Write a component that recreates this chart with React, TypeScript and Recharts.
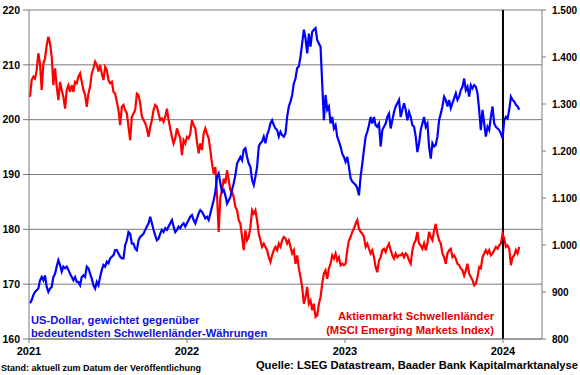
import React from "react";
import { LineChart, Line, XAxis, YAxis, CartesianGrid, ReferenceLine } from "recharts";

// Time axis: fractional years, one reading roughly every 3.9 days from early Jan 2021
const T0 = 2021.0063;
const STEP_YEARS = 0.010569;

const xTicks = [2021, 2022, 2023, 2024];
const leftTicks = [160, 170, 180, 190, 200, 210, 220];
const rightTicks = [800, 900, 1000, 1100, 1200, 1300, 1400, 1500];

// US-Dollar, weighted vs. main EM currencies (left axis)
const usd = [
  166.5,167.1,168.0,168.6,168.9,169.2,170.7,171.3,170.7,171.6,169.5,168.6,169.2,169.5,171.3,171.9,173.2,174.4,173.5,172.3,173.2,172.9,173.2,172.6,171.9,171.3,170.7,171.3,170.4,170.4,169.8,171.3,171.6,171.3,173.2,172.9,171.9,171.0,169.8,169.2,170.4,169.8,171.3,172.6,173.5,173.2,174.1,173.8,174.7,175.0,175.3,176.2,176.2,175.6,175.0,174.7,174.7,177.1,178.0,179.5,179.2,177.4,177.4,176.5,176.2,178.0,178.6,178.9,179.2,179.9,180.5,181.1,
  182.3,181.1,179.9,178.9,178.0,178.3,179.2,179.9,179.5,180.2,179.9,180.5,181.1,181.7,180.5,179.5,179.9,180.5,180.2,180.8,181.1,180.5,181.1,181.7,182.3,182.6,181.7,181.1,182.0,182.9,183.5,183.2,182.6,182.0,182.3,181.7,182.9,184.1,185.3,186.8,189.6,190.2,188.4,186.8,187.2,186.2,184.7,185.3,185.9,187.2,188.4,189.9,192.0,192.6,193.2,192.6,194.5,194.8,193.2,192.0,191.4,189.0,188.1,189.6,191.4,195.1,195.7,196.0,196.9,195.7,197.2,198.1,199.3,199.9,199.0,
  198.4,198.1,196.9,197.8,197.2,196.9,197.5,200.5,202.4,203.3,204.5,206.6,207.5,209.4,209.7,211.5,213.9,216.4,214.8,212.1,215.7,213.3,216.0,216.4,216.7,214.5,213.9,213.3,206.6,199.9,204.5,201.8,202.4,199.3,200.5,198.4,199.0,196.9,196.0,195.1,193.8,193.2,192.3,193.2,191.4,189.3,188.7,188.4,188.1,187.5,186.2,189.6,192.0,194.5,196.9,197.8,199.0,200.5,199.3,200.5,199.0,198.7,199.3,195.1,198.1,198.7,199.3,200.5,201.1,198.4,199.9,201.4,202.4,203.0,203.6,
  200.5,201.8,203.0,201.8,199.9,201.4,200.5,199.0,198.7,196.9,194.1,195.7,198.1,199.3,200.5,198.7,199.3,195.1,192.9,195.7,195.1,195.4,196.9,199.9,201.1,202.4,204.2,203.6,202.4,203.6,202.1,203.0,203.9,204.8,203.6,204.2,205.4,206.0,207.5,205.4,206.0,204.2,206.3,205.7,206.3,206.0,204.8,201.8,198.1,201.8,199.3,196.9,198.7,198.1,200.5,202.4,199.3,198.7,198.4,198.1,197.5,196.6,199.9,200.5,200.2,201.8,204.2,203.6,203.3,202.7,202.4,201.8,
];

// MSCI Emerging Markets Index (right axis)
const msci = [
  1315,1351,1358,1354,1372,1408,1386,1330,1386,1397,1425,1443,1429,1401,1340,1376,1337,1308,1347,1330,1315,1290,1330,1340,1326,1340,1326,1347,1344,1358,1365,1347,1330,1319,1294,1322,1337,1365,1376,1390,1383,1369,1383,1365,1351,1379,1372,1351,1344,1347,1326,1322,1305,1287,1255,1294,1298,1287,1280,1251,1223,1273,1280,1287,1322,1319,1301,1273,1266,1259,1248,1230,
  1251,1266,1287,1298,1294,1280,1266,1269,1262,1273,1290,1266,1248,1230,1216,1227,1248,1237,1227,1191,1223,1216,1230,1227,1237,1266,1255,1248,1219,1195,1216,1202,1237,1248,1237,1227,1202,1173,1152,1166,1106,1028,1102,1116,1141,1131,1159,1138,1116,1113,1102,1081,1074,1053,1045,1017,989,1031,1010,1017,1038,1074,1067,1074,1053,1024,1010,996,1003,996,989,974,964,978,989,
  996,989,1003,996,1010,1017,1014,1003,1010,996,982,989,960,978,950,932,911,875,889,911,875,882,861,875,847,850,875,889,918,939,946,928,950,960,978,971,982,967,974,957,960,957,960,989,1010,1017,1028,1035,1045,1053,1035,1028,1024,1017,996,1003,992,982,989,974,953,942,967,974,989,992,985,996,1003,989,978,971,982,974,978,
  978,982,974,982,978,967,960,989,1003,1010,1028,1003,999,992,1003,989,1003,1028,1017,1010,1031,1045,1024,1010,1003,982,974,960,982,989,992,974,978,971,960,957,950,946,935,946,960,939,932,925,914,918,932,953,950,974,982,989,982,989,978,982,989,996,992,999,1003,1024,1014,996,999,992,957,974,978,989,982,996,
];

const data = usd.map((u, i) => ({ t: T0 + i * STEP_YEARS, usd: u, msci: msci[i] }));

const FONT = '"Liberation Sans", Arial, sans-serif';
const fmtThousands = (v: number) => (v >= 1000 ? `${Math.floor(v / 1000)}.${String(v % 1000).padStart(3, "0")}` : String(v));

const xTickStyle = { fontFamily: FONT, fontSize: 11, fontWeight: 700, fill: "#000" };
const leftTickStyle = { fontFamily: FONT, fontSize: 10.5, fontWeight: 700, fill: "#000" };
const rightTickStyle = { fontFamily: FONT, fontSize: 10, fontWeight: 700, fill: "#000" };
const AXIS = "#7a7a7a";

export default function App() {
  return (
    <div style={{ position: "absolute", left: 0, top: 0, width: 580, height: 375, background: "#fff", fontFamily: FONT }}>
      <LineChart width={580} height={375} data={data} margin={{ top: 10, right: 0, bottom: 0, left: 0 }}>
        <CartesianGrid yAxisId="l" vertical={false} stroke={AXIS} strokeWidth={1} />
        <XAxis
          dataKey="t"
          type="number"
          domain={[2021, 2024.247]}
          ticks={xTicks}
          allowDataOverflow
          tickFormatter={(v: number) => String(Math.round(v))}
          height={36}
          tickSize={4}
          tickMargin={4}
          stroke={AXIS}
          tick={xTickStyle}
          tickLine={{ stroke: AXIS }}
        />
        <YAxis
          yAxisId="l"
          orientation="left"
          domain={[160, 220]}
          ticks={leftTicks}
          width={29}
          tickSize={6}
          tickMargin={3}
          tickLine={{ stroke: AXIS }}
          stroke={AXIS}
          tick={leftTickStyle}
        />
        <YAxis
          yAxisId="r"
          orientation="right"
          domain={[800, 1500]}
          ticks={rightTicks}
          width={38}
          tickSize={4}
          tickMargin={6}
          stroke={AXIS}
          tickLine={{ stroke: AXIS }}
          tickFormatter={fmtThousands}
          tick={rightTickStyle}
        />
        <ReferenceLine yAxisId="l" x={2024} stroke="#000" strokeWidth={2} />
        <Line yAxisId="r" dataKey="msci" stroke="#ff0000" strokeWidth={2.2} dot={false} isAnimationActive={false} />
        <Line yAxisId="l" dataKey="usd" stroke="#0000ff" strokeWidth={2.2} dot={false} isAnimationActive={false} />
      </LineChart>

      <div style={{ position: "absolute", left: 31, top: 314, color: "#1010e6", fontSize: 11.2, fontWeight: 700, lineHeight: "12.5px", whiteSpace: "nowrap" }}>
        US-Dollar, gewichtet gegenüber
        <br />
        bedeutendsten Schwellenländer-Währungen
      </div>
      <div style={{ position: "absolute", right: 580 - 494, top: 309, color: "#e60000", fontSize: 11.2, fontWeight: 700, lineHeight: "14px", textAlign: "right", whiteSpace: "nowrap" }}>
        Aktienmarkt Schwellenländer
        <br />
        (MSCI Emerging Markets Index)
      </div>
      <div style={{ position: "absolute", left: 1, top: 363, color: "#000", fontSize: 9, fontWeight: 700, whiteSpace: "nowrap" }}>
        Stand: aktuell zum Datum der Veröffentlichung
      </div>
      <div style={{ position: "absolute", right: 2, top: 359, color: "#000", fontSize: 11.2, fontWeight: 700, whiteSpace: "nowrap" }}>
        Quelle: LSEG Datastream, Baader Bank Kapitalmarktanalyse
      </div>
    </div>
  );
}
